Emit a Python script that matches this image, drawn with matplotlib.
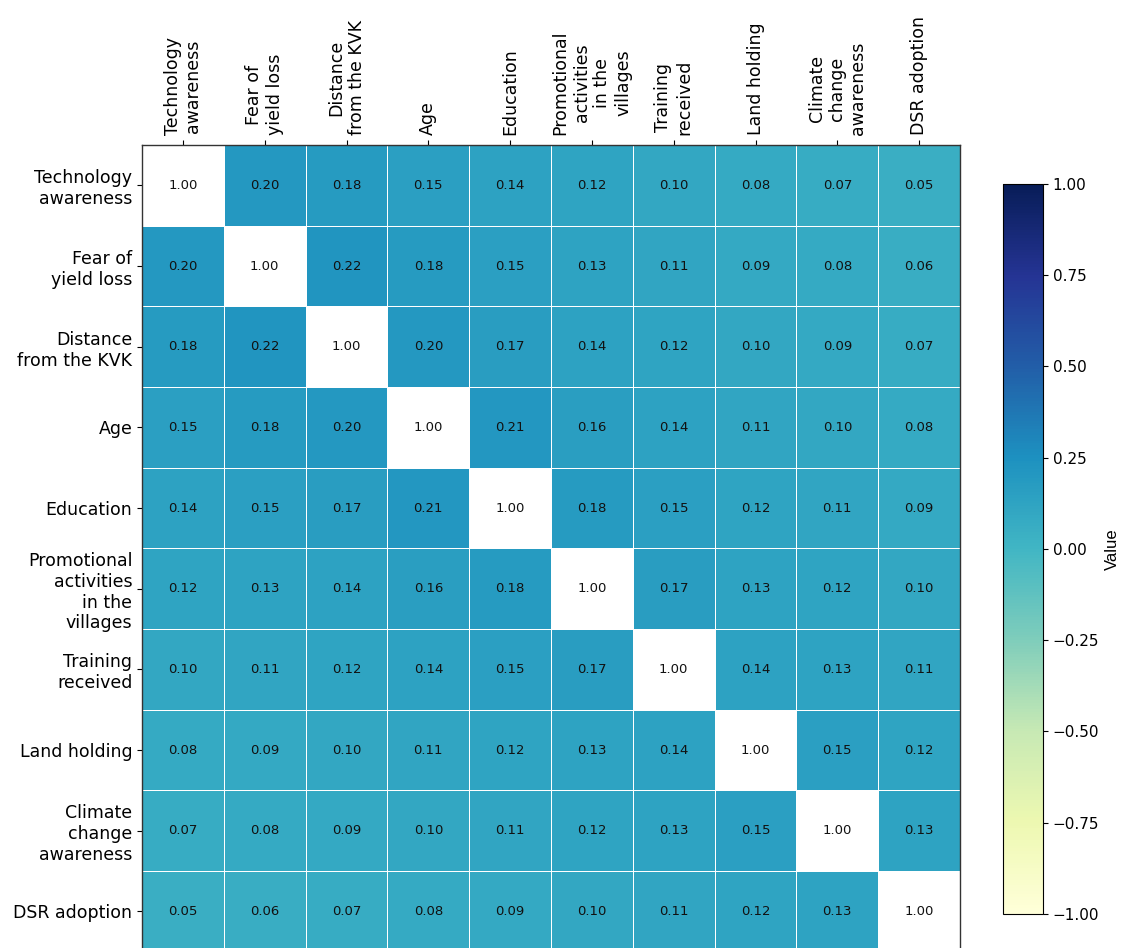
import matplotlib
matplotlib.use("Agg")
import matplotlib.pyplot as plt
import numpy as np

# variable names (shared by rows and columns)
labels = [
    "Technology\nawareness",
    "Fear of\nyield loss",
    "Distance\nfrom the KVK",
    "Age",
    "Education",
    "Promotional\nactivities\nin the\nvillages",
    "Training\nreceived",
    "Land holding",
    "Climate\nchange\nawareness",
    "DSR adoption",
]

# correlation matrix
row_tech = [1.00, 0.20, 0.18, 0.15, 0.14, 0.12, 0.10, 0.08, 0.07, 0.05]
row_fear = [0.20, 1.00, 0.22, 0.18, 0.15, 0.13, 0.11, 0.09, 0.08, 0.06]
row_dist = [0.18, 0.22, 1.00, 0.20, 0.17, 0.14, 0.12, 0.10, 0.09, 0.07]
row_age = [0.15, 0.18, 0.20, 1.00, 0.21, 0.16, 0.14, 0.11, 0.10, 0.08]
row_edu = [0.14, 0.15, 0.17, 0.21, 1.00, 0.18, 0.15, 0.12, 0.11, 0.09]
row_promo = [0.12, 0.13, 0.14, 0.16, 0.18, 1.00, 0.17, 0.13, 0.12, 0.10]
row_train = [0.10, 0.11, 0.12, 0.14, 0.15, 0.17, 1.00, 0.14, 0.13, 0.11]
row_land = [0.08, 0.09, 0.10, 0.11, 0.12, 0.13, 0.14, 1.00, 0.15, 0.12]
row_climate = [0.07, 0.08, 0.09, 0.10, 0.11, 0.12, 0.13, 0.15, 1.00, 0.13]
row_dsr = [0.05, 0.06, 0.07, 0.08, 0.09, 0.10, 0.11, 0.12, 0.13, 1.00]

cbar_ticks = [-1, -0.75, -0.5, -0.25, 0, 0.25, 0.5, 0.75, 1]

corr = np.array([row_tech, row_fear, row_dist, row_age, row_edu,
                 row_promo, row_train, row_land, row_climate, row_dsr])
n = len(labels)

fig = plt.figure(figsize=(11.21, 9.48), dpi=100)
ax = fig.add_axes([0.1267, -0.004, 0.7297, 0.851])
cax = fig.add_axes([0.8947, 0.0359, 0.0357, 0.7700])

# diagonal left blank (white)
masked = np.ma.masked_where(np.eye(n, dtype=bool), corr)
mesh = ax.pcolormesh(masked, cmap="YlGnBu", vmin=-1, vmax=1,
                     edgecolors="white", linewidth=0.7)
ax.set_xlim(0, n)
ax.set_ylim(n, 0)

for i in range(n):
    for j in range(n):
        ax.text(j + 0.5, i + 0.5, f"{corr[i, j]:.2f}", ha="center", va="center",
                fontsize=9.5, color="#111111")

ax.set_xticks(np.arange(n) + 0.5)
ax.set_yticks(np.arange(n) + 0.5)
ax.xaxis.tick_top()
ax.set_xticklabels(labels, rotation=90, fontsize=12.5)
ax.set_yticklabels(labels, fontsize=12.5)
for s in ax.spines.values():
    s.set_color("#333333")
    s.set_linewidth(1)

cb = fig.colorbar(mesh, cax=cax)
cb.set_ticks(cbar_ticks)
cb.ax.set_yticklabels([f"{t:.2f}".replace("-", "\u2212") for t in cbar_ticks])
cb.ax.tick_params(labelsize=11)
cb.set_label("Value", fontsize=12, labelpad=4, family="Liberation Sans")
cb.outline.set_linewidth(0.8)

fig.savefig("out.png", dpi=100)
